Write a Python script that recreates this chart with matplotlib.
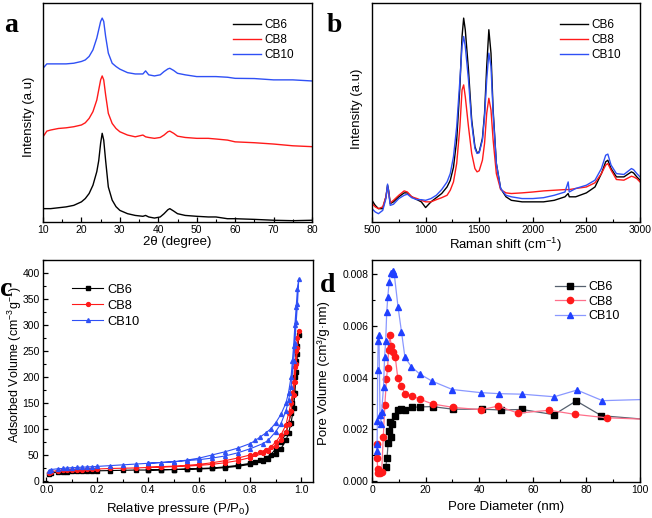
import matplotlib
matplotlib.use('Agg')
import matplotlib.pyplot as plt
from matplotlib.ticker import MultipleLocator, NullLocator, FormatStrFormatter

plt.rcParams['font.family'] = ['Liberation Sans', 'DejaVu Sans']
plt.rcParams['mathtext.fontset'] = 'custom'
plt.rcParams['mathtext.rm'] = 'Liberation Sans'
plt.rcParams['mathtext.it'] = 'Liberation Sans:italic'

# ---- (a) XRD ----
xrd_x = [10, 11, 12, 14, 16, 18, 20, 21, 22, 23, 24, 24.5, 25, 25.4, 25.8, 26.3, 27, 28, 29, 30,
         32, 34, 36, 36.7, 37.5, 39, 40.5, 41.5, 42.5, 43, 44, 45, 47, 50, 53, 55, 58, 60, 65, 70, 75, 80]
xrd_cb6 = [6.1, 6.1, 6.1, 6.5, 6.9, 7.6, 9.2, 10.7, 13.0, 16.8, 23.0, 28.0, 36.0, 40.5, 37.4, 28.0, 16.0, 10.0, 7.0, 5.3,
           3.8, 3.0, 2.6, 3.0, 2.3, 1.8, 2.3, 3.8, 5.6, 6.1, 5.0, 3.8, 3.0, 2.6, 2.3, 2.3, 1.5, 1.5, 1.2, 0.8, 0.6, 0.8]
xrd_cb8 = [38.9, 41.5, 42.0, 42.7, 43.0, 43.5, 44.3, 45.3, 47.3, 50.4, 55.7, 60.3, 64.9, 66.7, 64.9, 58.0, 49.6, 45.0, 42.7, 41.2,
           39.7, 38.9, 39.7, 38.9, 38.6, 38.2, 38.6, 39.7, 41.2, 41.5, 40.5, 39.2, 38.6, 38.2, 38.2, 37.9, 37.4, 36.6, 36.2, 35.6, 34.8, 34.4]
xrd_cb10 = [70.2, 72.2, 72.2, 72.2, 72.2, 72.5, 73.3, 74.0, 75.6, 78.6, 84.0, 87.8, 91.6, 93.1, 91.6, 84.7, 77.1, 72.5, 71.0, 69.8,
            68.2, 67.6, 67.6, 69.0, 67.2, 66.7, 67.2, 68.7, 69.9, 70.2, 69.2, 67.9, 67.2, 66.4, 66.4, 66.4, 66.1, 65.6, 65.5, 64.9, 64.9, 64.4]

# ---- (b) Raman ----
raman_x = [500, 530, 560, 600, 630, 645, 655, 670, 700, 750, 800, 830, 870, 920, 960, 1000, 1050, 1100, 1150, 1200,
           1230, 1260, 1290, 1320, 1340, 1355, 1370, 1400, 1430, 1460, 1480, 1500, 1530, 1550, 1570, 1590, 1610, 1630,
           1660, 1700, 1750, 1800, 1900, 2000, 2100, 2200, 2300, 2330, 2340, 2400, 2500, 2580, 2640, 2680, 2700, 2730,
           2780, 2850, 2920, 2940, 2970, 3000]
raman_cb6 = [9.9, 7.6, 6.1, 6.1, 11.5, 16.8, 14.5, 8.4, 9.2, 11.5, 13.3, 13.3, 11.5, 10.2, 9.2, 6.6, 9.2, 11.1, 13.0, 16.0,
             19.0, 25.0, 37.4, 61.8, 84.7, 93.1, 87.8, 69.5, 46.6, 34.4, 31.6, 32.0, 38.2, 49.6, 71.0, 87.8, 77.1, 51.1,
             26.7, 15.3, 11.5, 9.9, 9.2, 9.2, 9.2, 9.9, 11.5, 13.0, 11.5, 11.5, 13.3, 16.0, 22.1, 27.5, 28.2, 24.4,
             20.6, 20.6, 22.9, 22.4, 20.6, 19.1]
raman_cb8 = [8.4, 6.9, 6.1, 6.9, 11.5, 16.0, 13.7, 8.7, 9.9, 12.2, 14.2, 13.7, 11.5, 10.7, 9.9, 9.2, 9.2, 10.2, 11.1, 12.2,
             14.5, 18.3, 26.7, 43.5, 60.3, 62.6, 57.3, 43.5, 31.3, 24.4, 22.9, 23.4, 28.2, 35.9, 49.6, 56.5, 51.1, 37.4,
             22.1, 14.8, 13.3, 13.0, 13.3, 13.7, 14.2, 14.5, 14.8, 14.8, 14.8, 15.3, 16.0, 17.9, 22.1, 26.0, 26.7, 23.7,
             19.4, 19.1, 20.9, 20.6, 19.8, 18.3]
raman_cb10 = [6.1, 4.6, 3.8, 5.3, 10.7, 17.3, 13.7, 7.6, 8.1, 10.7, 12.2, 12.7, 11.1, 10.2, 10.2, 9.9, 10.7, 12.2, 14.8, 18.3,
              22.1, 29.8, 43.5, 64.9, 80.2, 84.7, 80.2, 64.9, 45.0, 33.6, 31.3, 31.6, 37.4, 48.1, 64.9, 77.1, 71.0, 49.6,
              26.7, 15.3, 12.2, 11.5, 10.7, 10.7, 11.1, 12.2, 13.7, 18.3, 13.7, 15.3, 16.8, 19.1, 24.4, 30.5, 31.0, 26.0,
              22.1, 21.7, 24.4, 23.9, 22.1, 20.6]

# ---- (c) N2 isotherms: adsorption then desorption ----
p_ads = [0.01, 0.02, 0.045, 0.065, 0.08, 0.1, 0.12, 0.14, 0.16, 0.18, 0.2, 0.25, 0.3, 0.35, 0.4, 0.45, 0.5, 0.55,
         0.6, 0.65, 0.7, 0.75, 0.8, 0.85, 0.87, 0.9, 0.92, 0.94, 0.95, 0.96, 0.97, 0.975, 0.98, 0.985, 0.99]
p_des = [0.985, 0.98, 0.975, 0.97, 0.965, 0.96, 0.95, 0.94, 0.92, 0.9, 0.88, 0.86, 0.84, 0.82, 0.8, 0.75, 0.7,
         0.65, 0.6, 0.55, 0.5, 0.45, 0.4]
cb6_ads = [14, 16, 17, 17.5, 18, 18.5, 18.5, 19, 19, 19.5, 19.5, 20, 20.5, 21, 21, 21.5, 22, 22.5, 23, 24, 25.5,
           28, 32, 38, 43, 52, 62, 78, 92, 112, 140, 170, 210, 245, 280]
cb6_des = [260, 230, 200, 170, 150, 130, 110, 92, 75, 62, 50, 45, 40, 36, 34, 30, 27, 25, 24, 23, 22, 21.5, 21]
cb8_ads = [16, 18, 20, 20.5, 21, 21.5, 22, 22, 22.5, 23, 23, 24, 24.5, 25, 26, 26.5, 27.5, 28.5, 30, 32, 35, 39,
           45, 53, 58, 68, 78, 95, 110, 135, 165, 190, 225, 255, 288]
cb8_des = [275, 250, 220, 190, 170, 150, 130, 108, 88, 75, 65, 60, 56, 52, 50, 44, 39, 35, 32, 30, 28.5, 27.5, 26.5]
cb10_ads = [20, 22, 23.5, 24, 25, 25.5, 26, 26.5, 27, 27.5, 28, 29.5, 31, 32.5, 34, 35.5, 37, 39, 41, 44, 48, 54,
            62, 72, 78, 95, 110, 135, 155, 180, 230, 265, 305, 340, 388]
cb10_des = [370, 335, 300, 260, 230, 200, 170, 150, 128, 112, 100, 92, 85, 78, 72, 63, 56, 50, 44, 40, 37, 35.5, 34]

# ---- (d) pore size distribution ----
d_cb6 = [5.1, 5.6, 6.0, 6.4, 6.7, 7.2, 7.6, 8.6, 9.6, 10.8, 12.3, 14.8, 17.9, 22.6, 30.2, 41.0, 48.2, 55.9, 67.9,
         76.2, 85.6, 110]
v_cb6 = [0.00055, 0.00088, 0.00146, 0.00192, 0.00230, 0.00171, 0.00222, 0.00250, 0.00274, 0.00278, 0.00276,
         0.00285, 0.00287, 0.00288, 0.00278, 0.00278, 0.00275, 0.00277, 0.00257, 0.00310, 0.00253, 0.00232]
d_cb8 = [1.7, 1.9, 2.1, 2.4, 3.0, 3.6, 4.2, 4.8, 5.4, 5.8, 6.2, 6.6, 7.2, 7.9, 8.7, 9.6, 10.8, 12.4, 14.8, 18.0,
         22.7, 30.3, 40.8, 47.0, 54.5, 66.2, 75.8, 87.5, 110]
v_cb8 = [0.00142, 0.00090, 0.00048, 0.00030, 0.00033, 0.00036, 0.00170, 0.00295, 0.00395, 0.00437, 0.00508,
         0.00565, 0.00522, 0.00498, 0.00478, 0.00400, 0.00368, 0.00338, 0.00330, 0.00316, 0.00298, 0.00285,
         0.00276, 0.00290, 0.00263, 0.00274, 0.00258, 0.00245, 0.00236]
d_cb10 = [1.8, 1.9, 2.0, 2.1, 2.3, 2.6, 3.0, 3.3, 3.6, 4.3, 4.7, 5.1, 5.5, 5.9, 6.4, 7.0, 8.0, 8.3, 9.7, 11.0,
          12.3, 14.7, 17.8, 22.5, 30.0, 40.5, 47.5, 56.0, 68.0, 76.5, 86.0, 110]
v_cb10 = [0.00118, 0.00145, 0.00232, 0.00430, 0.00540, 0.00566, 0.00255, 0.00220, 0.00268, 0.00365, 0.00480,
          0.00540, 0.00654, 0.00712, 0.00770, 0.00805, 0.00810, 0.00800, 0.00674, 0.00577, 0.00478, 0.00442,
          0.00414, 0.00386, 0.00354, 0.00342, 0.00338, 0.00336, 0.00326, 0.00352, 0.00311, 0.00318]

labels = ['CB6', 'CB8', 'CB10']
W, H = 652, 518


def rect(l, t, r, b):
    return [l / W, 1 - b / H, (r - l) / W, (b - t) / H]


def style(ax, tick_size=7.5):
    for s in ax.spines.values():
        s.set_linewidth(1.0)
    ax.tick_params(which='both', direction='in', top=False, right=False, labelsize=tick_size, pad=2.5)
    ax.tick_params(which='major', length=3.5, width=0.9)
    ax.tick_params(which='minor', length=2, width=0.8)


fig = plt.figure(figsize=(6.52, 5.18), dpi=100)

# (a)
ax = fig.add_axes(rect(43, 3, 312, 222))
ax.plot(xrd_x, xrd_cb6, color='black', lw=1.0, label=labels[0])
ax.plot(xrd_x, xrd_cb8, color='#ff1a1a', lw=1.0, label=labels[1])
ax.plot(xrd_x, xrd_cb10, color='#2f50f5', lw=1.0, label=labels[2])
ax.set_xlim(10, 80)
ax.set_ylim(0, 100)
ax.xaxis.set_major_locator(MultipleLocator(10))
ax.xaxis.set_minor_locator(MultipleLocator(5))
ax.yaxis.set_major_locator(NullLocator())
style(ax)
ax.set_xlabel('2θ (degree)', fontsize=9.5)
ax.set_ylabel('Intensity (a.u)', fontsize=9.5)
ax.xaxis.set_label_coords(0.5, -0.066)
ax.yaxis.set_label_coords(-0.028, 0.48)
ax.legend(loc='upper left', bbox_to_anchor=(0.665, 0.975), frameon=False, fontsize=8.5,
          handlelength=2.4, labelspacing=0.25, handletextpad=0.3)

# (b)
ax = fig.add_axes(rect(372, 3, 640, 222))
ax.plot(raman_x, raman_cb6, color='black', lw=1.0, label=labels[0])
ax.plot(raman_x, raman_cb8, color='#ff1a1a', lw=1.0, label=labels[1])
ax.plot(raman_x, raman_cb10, color='#2f50f5', lw=1.0, label=labels[2])
ax.set_xlim(500, 3000)
ax.set_ylim(0, 100)
ax.xaxis.set_major_locator(MultipleLocator(500))
ax.xaxis.set_minor_locator(MultipleLocator(250))
ax.yaxis.set_major_locator(NullLocator())
style(ax)
ax.set_xlabel('Raman shift (cm$^{-1}$)', fontsize=9.5)
ax.set_ylabel('Intensity (a.u)', fontsize=9.5)
ax.xaxis.set_label_coords(0.5, -0.062)
ax.yaxis.set_label_coords(-0.035, 0.515)
ax.legend(loc='upper left', bbox_to_anchor=(0.66, 0.975), frameon=False, fontsize=8.5,
          handlelength=2.4, labelspacing=0.25, handletextpad=0.3)

# (c)
ax = fig.add_axes(rect(43, 260, 313, 482))
for ads, des, c, m, lab in [(cb6_ads, cb6_des, 'black', 's', labels[0]),
                            (cb8_ads, cb8_des, '#ff1a1a', 'o', labels[1]),
                            (cb10_ads, cb10_des, '#2f50f5', '^', labels[2])]:
    ax.plot(p_ads + p_des, ads + des, color=c, lw=0.8, marker=m, ms=2.8, label=lab)
ax.set_xlim(-0.013, 1.046)
ax.set_ylim(-2, 425)
ax.xaxis.set_major_locator(MultipleLocator(0.2))
ax.xaxis.set_minor_locator(MultipleLocator(0.1))
ax.yaxis.set_major_locator(MultipleLocator(50))
ax.yaxis.set_minor_locator(MultipleLocator(25))
ax.xaxis.set_major_formatter(FormatStrFormatter('%.1f'))
style(ax)
ax.set_xlabel('Relative pressure (P/P$_0$)', fontsize=9.5)
ax.set_ylabel('Adsorbed Volume (cm$^{-3}$g$^{-1}$)', fontsize=9)
ax.yaxis.set_label_coords(-0.071, 0.53)
ax.legend(loc='upper left', bbox_to_anchor=(0.065, 0.945), frameon=False, fontsize=9.3,
          handlelength=2.4, labelspacing=0.3, handletextpad=0.3)

# (d)
ax = fig.add_axes(rect(372, 260, 640, 482))
ax.plot(d_cb6, v_cb6, color='#56606e', lw=0.9, marker='s', ms=4, mfc='black', mec='black', label=labels[0])
ax.plot(d_cb8, v_cb8, color='#ff6f8a', lw=0.9, marker='o', ms=4.5, mfc='#ff1a1a', mec='#ff1a1a', label=labels[1])
ax.plot(d_cb10, v_cb10, color='#8a98ff', lw=0.9, marker='^', ms=5, mfc='#2040ff', mec='#2040ff', label=labels[2])
ax.set_xlim(0, 100)
ax.set_ylim(-0.00003, 0.00854)
ax.xaxis.set_major_locator(MultipleLocator(20))
ax.xaxis.set_minor_locator(MultipleLocator(10))
ax.yaxis.set_major_locator(MultipleLocator(0.002))
ax.yaxis.set_minor_locator(MultipleLocator(0.001))
ax.yaxis.set_major_formatter(FormatStrFormatter('%.3f'))
style(ax)
ax.set_xlabel('Pore Diameter (nm)', fontsize=9.5)
ax.set_ylabel('Pore Volume (cm³/g·nm)', fontsize=9.5)
ax.yaxis.set_label_coords(-0.157, 0.49)
ax.legend(loc='upper left', bbox_to_anchor=(0.64, 0.955), frameon=False, fontsize=9,
          handlelength=2.4, labelspacing=0.2, handletextpad=0.3)

# panel letters
for txt, x, y in [('a', 4, 26), ('b', 327, 26), ('c', 0, 289), ('d', 320, 285)]:
    fig.text(x / W, 1 - y / H, txt, fontsize=20, fontweight='bold', family='Liberation Serif',
             ha='left', va='center')

fig.savefig('out.png', dpi=100)
